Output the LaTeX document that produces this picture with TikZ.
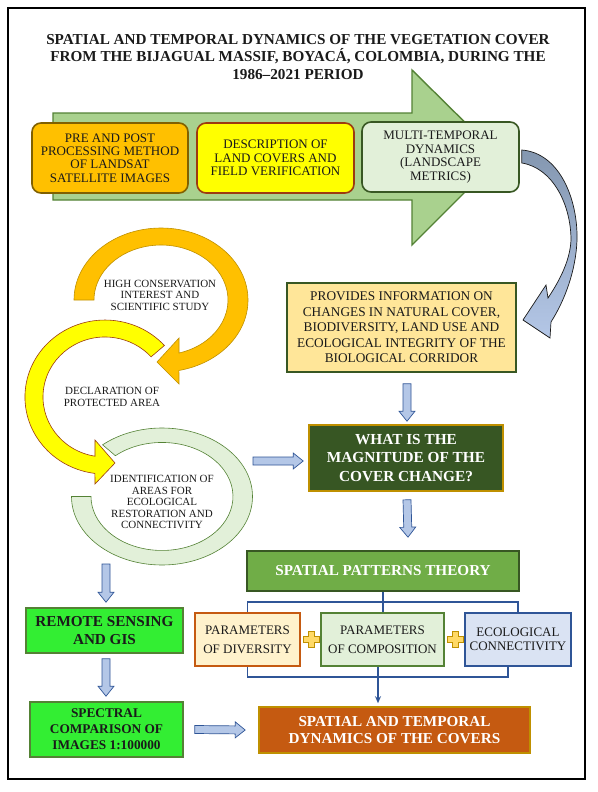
\documentclass[tikz,border=0pt]{standalone}
\usepackage{fontspec}
\setmainfont{Liberation Serif}
\usetikzlibrary{calc,arrows.meta}
\definecolor{arrowgreen}{HTML}{A9D18E}
\definecolor{arrowgreenD}{HTML}{548235}
\definecolor{orangeF}{HTML}{FFC000}
\definecolor{orangeD}{HTML}{806000}
\definecolor{orangeR}{HTML}{BF9000}
\definecolor{yellowF}{HTML}{FFFF00}
\definecolor{yellowD}{HTML}{9C3B10}
\definecolor{paleG}{HTML}{E2F0D9}
\definecolor{darkG}{HTML}{385723}
\definecolor{provF}{HTML}{FFE699}
\definecolor{magF}{HTML}{375623}
\definecolor{gold}{HTML}{BF9000}
\definecolor{spG}{HTML}{70AD47}
\definecolor{brightG}{HTML}{33EE33}
\definecolor{rust}{HTML}{C55A11}
\definecolor{cream}{HTML}{FFF2CC}
\definecolor{paleB}{HTML}{DAE3F3}
\definecolor{navy}{HTML}{2F5597}
\definecolor{arrF}{HTML}{B4C7E7}
\definecolor{steel}{HTML}{8497B0}
\definecolor{plusF}{HTML}{FFD966}
\definecolor{ink}{HTML}{1A1A1A}
\newcommand\blockarr[2]{%
  \coordinate (bahead) at ($(#2)!10pt!(#1)$);
  \draw[blockarrow] ($(#1)!4pt!90:(#2)$) -- ($(bahead)!4pt!90:(#2)$) -- ($(bahead)!8pt!90:(#2)$) -- (#2) -- ($(bahead)!8pt!-90:(#2)$) -- ($(bahead)!4pt!-90:(#2)$) -- ($(#1)!4pt!-90:(#2)$) -- cycle;}
\newcommand\plussign[1]{%
  \draw[plusshape] ($(#1)+(-3,8)$) -- ($(#1)+(3,8)$) -- ($(#1)+(3,3)$) -- ($(#1)+(8,3)$) -- ($(#1)+(8,-3)$) -- ($(#1)+(3,-3)$) -- ($(#1)+(3,-8)$) -- ($(#1)+(-3,-8)$) -- ($(#1)+(-3,-3)$) -- ($(#1)+(-8,-3)$) -- ($(#1)+(-8,3)$) -- ($(#1)+(-3,3)$) -- cycle;}
\begin{document}
\begin{tikzpicture}[x=1pt,y=1pt,
  topbox/.style={draw, line width=1.6pt, rounded corners=9pt, align=center, inner sep=0pt, text=ink, font=\fontsize{13}{13.4}\selectfont},
  sqbox/.style={draw, line width=1.6pt, align=center, inner sep=0pt},
  whitebold/.style={text=white, font=\fontsize{15.2}{17}\selectfont\bfseries},
  blockarrow/.style={draw=navy, fill=arrF, line width=0.7pt, line join=miter},
  bracket/.style={draw=navy, line width=1.1pt},
  ringtext/.style={align=center, text=ink, font=\fontsize{11}{11.5}\selectfont},
  plusshape/.style={draw=gold, fill=plusF, line width=0.6pt},
  ringshape/.style={line width=0.6pt, line join=miter}]
\useasboundingbox (0,0) rectangle (597,-792);
\fill[white] (0,0) rectangle (597,-792);
\draw[line width=2.2pt] (8,-8) rectangle (585,-779);

% title
\node[align=center, text=ink, font=\fontsize{15.2}{17.5}\selectfont\bfseries] (title) at (298,-57)
  {SPATIAL AND TEMPORAL DYNAMICS OF THE VEGETATION COVER\\FROM THE BIJAGUAL MASSIF, BOYAC\'A, COLOMBIA, DURING THE\\1986--2021 PERIOD};

% big arrow
\draw[fill=arrowgreen, draw=arrowgreenD, line width=1.4pt] (53,-113) -- (412,-113) -- (412,-70) -- (500,-157) -- (412,-245) -- (412,-200) -- (53,-200) -- cycle;

\node[topbox, fill=orangeF, draw=orangeD, minimum width=156pt, minimum height=70pt] (b1) at (110,-158)
  {PRE AND POST\\PROCESSING METHOD\\OF LANDSAT\\SATELLITE IMAGES};
\node[topbox, fill=yellowF, draw=yellowD, minimum width=157pt, minimum height=70pt] (b2) at (275.5,-158)
  {DESCRIPTION OF\\LAND COVERS AND\\FIELD VERIFICATION};
\node[topbox, fill=paleG, draw=darkG, minimum width=157pt, minimum height=70pt] (b3) at (440.5,-157)
  {MULTI-TEMPORAL\\DYNAMICS\\(LANDSCAPE\\METRICS)};

% curved blue arrow
\draw[top color=steel, bottom color=arrF, draw=ink, line width=0.7pt, line join=miter]
  ($(b3.east)+(2,7)$) .. controls (560,-153) and (578,-200) .. (577,-240)
  .. controls (576,-270) and (565,-300) .. (551,-322) -- (550,-338) -- (523,-320) -- (546,-285) -- (548,-298)
  .. controls (558,-283) and (570,-262) .. (571,-240)
  .. controls (571,-205) and (553,-168) .. ($(b3.east)+(2,-6)$) -- cycle;

% ring arrows
\draw[ringshape, fill=paleG, draw=arrowgreenD] (71.5,-496.5) arc[start angle=180, end angle=491, x radius=90.5, y radius=68.5]
  -- (115.4,-455.7) arc[start angle=491, end angle=180, x radius=71, y radius=54] -- cycle;
\draw[ringshape, fill=yellowF, draw=yellowD] (164.4,-345.5) arc[start angle=42, end angle=262.8, x radius=80, y radius=77]
  -- (95,-484) -- (115,-463) -- (95,-440) -- (94.98,-456.2) arc[start angle=260.7, end angle=42, x radius=62, y radius=60] -- cycle;
\draw[ringshape, fill=orangeF, draw=orangeR] (74,-300) arc[start angle=180, end angle=-78.1, x radius=87, y radius=72]
  -- (179,-384) -- (157,-362) -- (179,-338) -- (179,-353) arc[start angle=-74.4, end angle=180, x radius=67, y radius=55] -- cycle;

\node[ringtext] (high) at (160,-295) {HIGH CONSERVATION\\INTEREST AND\\SCIENTIFIC STUDY};
\node[ringtext] (decl) at (112,-397) {DECLARATION OF\\PROTECTED AREA};
\node[ringtext] (ident) at (162,-502) {IDENTIFICATION OF\\AREAS FOR\\ECOLOGICAL\\RESTORATION AND\\CONNECTIVITY};

% right column
\node[sqbox, fill=provF, draw=darkG, minimum width=229pt, minimum height=89pt, text=ink, font=\fontsize{13.3}{15.5}\selectfont] (prov) at (401.5,-327.5)
  {PROVIDES INFORMATION ON\\CHANGES IN NATURAL COVER,\\BIODIVERSITY, LAND USE AND\\ECOLOGICAL INTEGRITY OF THE\\BIOLOGICAL CORRIDOR};
\node[sqbox, fill=magF, draw=gold, minimum width=194pt, minimum height=66pt, text=white, font=\fontsize{15.3}{18.5}\selectfont\bfseries] (mag) at (406,-458)
  {WHAT IS THE\\MAGNITUDE OF THE\\COVER CHANGE?};
\node[sqbox, fill=spG, draw=darkG, minimum width=272pt, minimum height=40pt, whitebold] (sp) at (383,-571)
  {SPATIAL PATTERNS THEORY};
\node[sqbox, fill=cream, draw=rust, minimum width=105pt, minimum height=53pt, text=ink, font=\fontsize{13}{19}\selectfont] (div) at (247.5,-639.5)
  {PARAMETERS\\OF DIVERSITY};
\node[sqbox, fill=paleG, draw=arrowgreenD, minimum width=123pt, minimum height=53pt, text=ink, font=\fontsize{13}{19}\selectfont] (comp) at (382.5,-639.5)
  {PARAMETERS\\OF COMPOSITION};
\node[sqbox, fill=paleB, draw=navy, minimum width=106pt, minimum height=53pt, text=ink, font=\fontsize{13}{13.5}\selectfont] (eco) at (518,-639.5)
  {ECOLOGICAL\\CONNECTIVITY};
\plussign{311,-639}
\plussign{455,-639}
\node[sqbox, fill=rust, draw=gold, minimum width=271pt, minimum height=46pt, whitebold] (st) at (394.5,-730)
  {SPATIAL AND TEMPORAL\\DYNAMICS OF THE COVERS};

% left column
\node[sqbox, fill=brightG, draw=arrowgreenD, minimum width=157pt, minimum height=45pt, text=ink, font=\fontsize{15.2}{18}\selectfont\bfseries] (rem) at (104.5,-630.5)
  {REMOTE SENSING\\AND GIS};
\node[sqbox, fill=brightG, draw=arrowgreenD, minimum width=153pt, minimum height=55pt, text=ink, font=\fontsize{13.3}{16}\selectfont\bfseries] (spec) at (106.5,-729.5)
  {SPECTRAL\\COMPARISON OF\\IMAGES 1:100000};

% brackets
\coordinate (brkT) at (0,-602);
\coordinate (brkB) at (0,-677);
\coordinate (ecoB) at ($(eco.south)+(-10,0)$);
\coordinate (cm) at (378,0);
\draw[bracket] (div.north) -- (div.north |- brkT) -| (eco.north);
\draw[bracket] (sp.south) -- (sp.south |- comp.north);
\draw[bracket] (div.south) -- (div.south |- brkB) -| (ecoB);
\draw[bracket,-{Stealth[length=7pt,width=6pt]}] (comp.south -| cm) -- ($(st.north -| cm)+(0,3)$);

% block arrows
\coordinate (a1s) at ($(prov.south)+(5.5,-11)$);
\coordinate (a1e) at ($(mag.north)+(1,3)$);
\blockarr{a1s}{a1e}
\coordinate (a2s) at ($(mag.south)+(1,-8)$);
\coordinate (a2e) at ($(sp.north)+(25,13)$);
\blockarr{a2s}{a2e}
\coordinate (ringR) at (253,-461);
\coordinate (a3e) at ($(mag.west)+(-5,-3)$);
\blockarr{ringR}{a3e}
\coordinate (ringB) at (106,-564);
\coordinate (a4e) at ($(rem.north)+(1.5,5)$);
\blockarr{ringB}{a4e}
\coordinate (a5s) at ($(rem.south)+(1.5,-5)$);
\coordinate (a5e) at ($(spec.north)+(-0.5,5)$);
\blockarr{a5s}{a5e}
\coordinate (a6s) at ($(spec.east)+(11,0)$);
\coordinate (a6e) at ($(st.west)+(-13,0)$);
\blockarr{a6s}{a6e}
\end{tikzpicture}
\end{document}
